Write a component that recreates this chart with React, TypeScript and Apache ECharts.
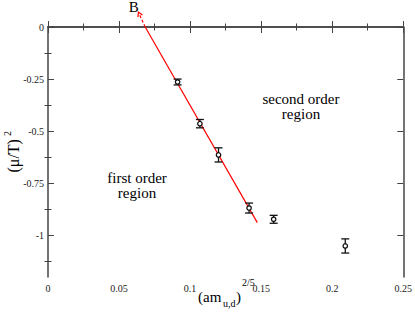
import React, { useEffect, useRef } from "react";
import * as echarts from "echarts";

const pointX = [0.0912, 0.1069, 0.12, 0.1415, 0.1588, 0.2092];
const pointY = [-0.264, -0.464, -0.614, -0.869, -0.923, -1.051];
const pointErr = [0.014, 0.02, 0.034, 0.024, 0.019, 0.034];

const fitLineX = [0.1473, 0.0684];
const fitLineY = [-0.939, 0];
const arrowX = [0.0684, 0.0636];
const arrowY = [0, 0.072];

const yMajorTicks = [0, -0.25, -0.5, -0.75, -1];
const yMinorTicks = [-0.125, -0.375, -0.625, -0.875, -1.125];

const SERIF = "Liberation Serif";

export default function App() {
  const ref = useRef<HTMLDivElement>(null);
  useEffect(() => {
    if (!ref.current) return;
    const chart = echarts.init(ref.current, null, { renderer: "svg" });
    const axisColor = "#444";
    const yBase = {
      type: "value",
      min: -1.2,
      max: 0,
      splitLine: { show: false },
    };
    const font15 = `15px '${SERIF}'`;
    const option: any = {
      animation: false,
      backgroundColor: "#fff",
      grid: { left: 48, right: 10, top: 27, bottom: 40 },
      xAxis: [
        {
          type: "value",
          position: "bottom",
          min: 0,
          max: 0.25,
          interval: 0.05,
          axisLine: { show: true, lineStyle: { color: axisColor, width: 1.5 } },
          axisTick: { show: true, inside: true, length: 6, lineStyle: { color: axisColor } },
          minorTick: { show: true, splitNumber: 2, length: 3.5, lineStyle: { color: axisColor } },
          axisLabel: { fontFamily: SERIF, fontSize: 10, color: "#222", margin: 6 },
          splitLine: { show: false },
          minorSplitLine: { show: false },
        },
        {
          type: "value",
          position: "top",
          min: 0,
          max: 0.25,
          interval: 0.05,
          axisLine: { show: true, lineStyle: { color: axisColor, width: 1.5 } },
          axisTick: { show: true, inside: true, length: 6, lineStyle: { color: axisColor } },
          minorTick: { show: true, splitNumber: 2, length: 3.5, lineStyle: { color: axisColor } },
          axisLabel: { show: false },
          splitLine: { show: false },
          minorSplitLine: { show: false },
        },
      ],
      yAxis: [
        {
          ...yBase,
          position: "left",
          axisLine: { show: true, onZero: false, lineStyle: { color: axisColor, width: 1.5 } },
          axisTick: { show: true, inside: true, length: 6, customValues: yMajorTicks, lineStyle: { color: axisColor } },
          axisLabel: { customValues: yMajorTicks, fontFamily: SERIF, fontSize: 10, color: "#222", margin: 4 },
        },
        {
          ...yBase,
          position: "left",
          axisLine: { show: false },
          axisTick: { show: true, inside: true, length: 3.5, customValues: yMinorTicks, lineStyle: { color: axisColor } },
          axisLabel: { show: false },
        },
        {
          ...yBase,
          position: "right",
          axisLine: { show: true, onZero: false, lineStyle: { color: axisColor, width: 1.5 } },
          axisTick: { show: true, inside: true, length: 6, customValues: yMajorTicks, lineStyle: { color: axisColor } },
          axisLabel: { show: false },
        },
        {
          ...yBase,
          position: "right",
          axisLine: { show: false },
          axisTick: { show: true, inside: true, length: 3.5, customValues: yMinorTicks, lineStyle: { color: axisColor } },
          axisLabel: { show: false },
        },
      ],
      series: [
        {
          type: "line",
          data: fitLineX.map((x, i) => [x, fitLineY[i]]),
          showSymbol: false,
          symbol: "none",
          clip: false,
          lineStyle: { color: "#ff0000", width: 1.2 },
          z: 3,
        },
        {
          type: "custom",
          clip: false,
          data: [[arrowX[0], arrowY[0], arrowX[1], arrowY[1]]],
          renderItem: (params: any, api: any) => {
            const a = api.coord([api.value(0), api.value(1)]);
            const b = api.coord([api.value(2), api.value(3)]);
            const dx = b[0] - a[0];
            const dy = b[1] - a[1];
            const len = Math.sqrt(dx * dx + dy * dy);
            const ux = dx / len;
            const uy = dy / len;
            const hl = 4.5;
            const hw = 2.5;
            const bx = b[0] - ux * hl;
            const by = b[1] - uy * hl;
            return {
              type: "group",
              children: [
                {
                  type: "line",
                  shape: { x1: a[0], y1: a[1], x2: b[0] - ux * 1, y2: b[1] - uy * 1 },
                  style: { stroke: "#ff0000", lineWidth: 1.2, lineDash: [3, 2] },
                },
                {
                  type: "polyline",
                  shape: {
                    points: [
                      [bx - uy * hw, by + ux * hw],
                      [b[0], b[1]],
                      [bx + uy * hw, by - ux * hw],
                    ],
                  },
                  style: { stroke: "#ff0000", lineWidth: 1.2, fill: null },
                },
              ],
            };
          },
          z: 3,
        },
        {
          type: "custom",
          clip: false,
          data: pointX.map((x, i) => [x, pointY[i], pointErr[i]]),
          renderItem: (params: any, api: any) => {
            const x = api.value(0);
            const y = api.value(1);
            const e = api.value(2);
            const p = api.coord([x, y]);
            const t = api.coord([x, y + e]);
            const b = api.coord([x, y - e]);
            const cw = 4;
            const st = { stroke: "#111", lineWidth: 1.3 };
            return {
              type: "group",
              children: [
                { type: "line", shape: { x1: p[0], y1: t[1], x2: p[0], y2: b[1] }, style: st },
                { type: "line", shape: { x1: p[0] - cw, y1: t[1], x2: p[0] + cw, y2: t[1] }, style: st },
                { type: "line", shape: { x1: p[0] - cw, y1: b[1], x2: p[0] + cw, y2: b[1] }, style: st },
                {
                  type: "circle",
                  shape: { cx: p[0], cy: p[1], r: 2.2 },
                  style: { stroke: "#111", lineWidth: 1.3, fill: "#fff" },
                },
              ],
            };
          },
          z: 4,
        },
      ],
      graphic: [
        {
          type: "text",
          x: 133.7,
          y: 6.5,
          style: { text: "B", font: font15, fill: "#000", textAlign: "center", textVerticalAlign: "middle" },
        },
        {
          type: "text",
          x: 301,
          y: 106.5,
          style: {
            text: "second order\nregion",
            font: font15,
            lineHeight: 15,
            fill: "#000",
            textAlign: "center",
            textVerticalAlign: "middle",
          },
        },
        {
          type: "text",
          x: 137,
          y: 185.5,
          style: {
            text: "first order\nregion",
            font: font15,
            lineHeight: 15,
            fill: "#000",
            textAlign: "center",
            textVerticalAlign: "middle",
          },
        },
        {
          type: "text",
          x: 198,
          y: 297,
          style: { text: "(am", font: font15, fill: "#000", textAlign: "left", textVerticalAlign: "middle" },
        },
        {
          type: "text",
          x: 223,
          y: 303,
          style: { text: "u,d", font: `10px '${SERIF}'`, fill: "#000", textAlign: "left", textVerticalAlign: "middle" },
        },
        {
          type: "text",
          x: 236,
          y: 297,
          style: { text: ")", font: font15, fill: "#000", textAlign: "left", textVerticalAlign: "middle" },
        },
        {
          type: "text",
          x: 242,
          y: 282,
          style: { text: "2/5", font: `10px '${SERIF}'`, fill: "#000", textAlign: "left", textVerticalAlign: "middle" },
        },
        {
          type: "group",
          x: 13,
          y: 156,
          rotation: Math.PI / 2,
          children: [
            {
              type: "text",
              x: -16.5,
              y: 0,
              style: { text: "(μ/T)", font: `16px '${SERIF}'`, fill: "#000", textAlign: "left", textVerticalAlign: "middle" },
            },
            {
              type: "text",
              x: 20,
              y: -6,
              style: { text: "2", font: `10px '${SERIF}'`, fill: "#000", textAlign: "left", textVerticalAlign: "middle" },
            },
          ],
        },
      ],
    };
    chart.setOption(option);
    return () => chart.dispose();
  }, []);
  return (
    <div
      ref={ref}
      style={{ position: "fixed", left: 0, top: 0, width: 415, height: 317 }}
    />
  );
}
